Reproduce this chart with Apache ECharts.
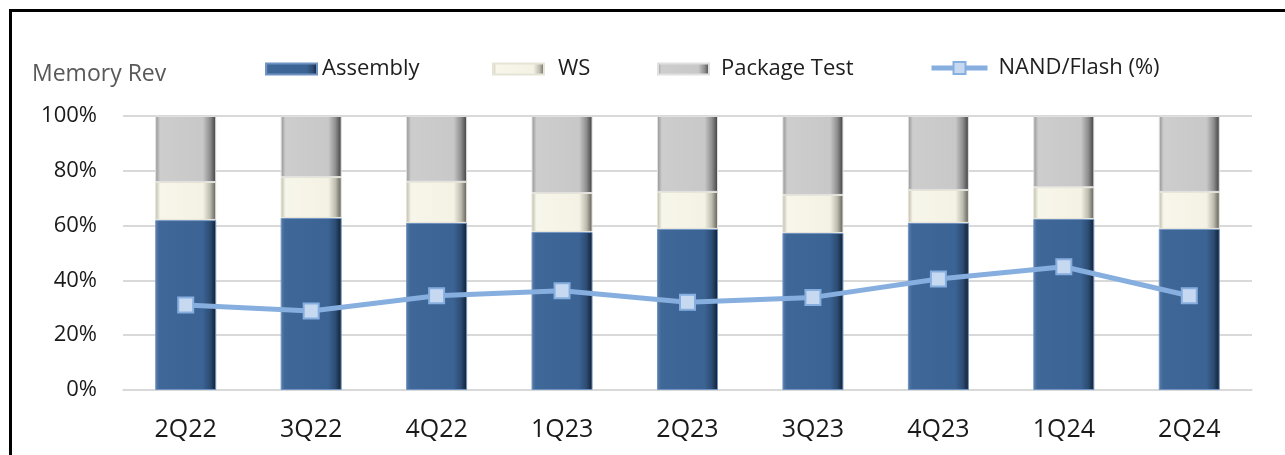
<!DOCTYPE html>
<html>
<head>
<meta charset="utf-8">
<script src="https://cdn.jsdelivr.net/npm/echarts@6/dist/echarts.min.js"></script>
<style>
html,body{margin:0;padding:0;background:#fff;}
#chart{width:1285px;height:455px;}
</style>
</head>
<body>
<div id="chart"></div>
<script>
const categories = ['2Q22','3Q22','4Q22','1Q23','2Q23','3Q23','4Q23','1Q24','2Q24'];
const assembly = [62.0, 62.8, 61.0, 57.7, 58.8, 57.3, 61.0, 62.4, 58.8];
const ws = [13.9, 14.9, 15.0, 14.2, 13.5, 13.9, 12.0, 11.6, 13.5];
const packageTest = assembly.map((a, i) => +(100 - a - ws[i]).toFixed(1));
const nandFlash = [31.0, 28.8, 34.4, 36.2, 32.0, 33.8, 40.5, 45.0, 34.4];
const yTicks = [0, 20, 40, 60, 80, 100];
const legendNames = ['Assembly','WS','Package Test','NAND/Flash (%)'];

const FONT = 'Open Sans';
function hGrad(stops){
  return {type:'linear',x:0,y:0,x2:1,y2:0,colorStops:stops.map(s=>({offset:s[0],color:s[1]}))};
}
const blueFill = hGrad([[0,'#5a7fae'],[0.07,'#3f6797'],[0.78,'#3b6393'],[0.9,'#2c4c73'],[1,'#101d2d']]);
const wsFill = hGrad([[0,'#b9b7a8'],[0.08,'#f7f6ea'],[0.78,'#f4f2e4'],[0.9,'#bdbbae'],[1,'#5a5a55']]);
const ptFill = hGrad([[0,'#8e8e8e'],[0.08,'#cdcdcd'],[0.78,'#c8c8c8'],[0.9,'#8e8e8e'],[1,'#3c3c3c']]);

const legendLeft = [260, 487, 652, 924];
const legendPad = [5, 14, 12, 11];
const legends = legendNames.map((n, i) => ({
  top: i === 3 ? 52 : 53, left: legendLeft[i],
  itemWidth: i === 3 ? 56 : 51, itemHeight: i === 3 ? 15 : 11,
  textStyle: {fontFamily: FONT, fontSize: 22, color: '#1e1e1e', padding: [0, 0, 0, legendPad[i] - 5]},
  data: [i === 3
    ? {name: n, lineStyle: {width: 5, color: '#86afe0'}, itemStyle: {color: '#c6d9f1', borderColor: '#86afe0', borderWidth: 2}}
    : {name: n, icon: 'rect'}]
}));

const chart = echarts.init(document.getElementById('chart'));
chart.setOption({
  backgroundColor:'#fff',
  animation:false,
  textStyle:{fontFamily:FONT},
  grid:{left:123,right:33,top:116,bottom:65},
  legend: legends,
  graphic:[
    {type:'rect',left:8,top:8,shape:{width:1320,height:500},style:{fill:'none',stroke:'#000',lineWidth:3},silent:true},
    {type:'text',left:32,top:63,style:{text:'Memory Rev',fontFamily:FONT,fontSize:23,fill:'#595959'}}
  ],
  xAxis:{
    type:'category',data:categories,
    axisLine:{show:true,lineStyle:{color:'#d9d9d9',width:1.5}},
    axisTick:{show:false},
    axisLabel:{fontFamily:FONT,fontSize:25,color:'#1a1a1a',margin:27}
  },
  yAxis:{
    type:'value',min:yTicks[0],max:yTicks[yTicks.length-1],interval:20,
    axisLine:{show:false},axisTick:{show:false},
    splitLine:{lineStyle:{color:'#d9d9d9',width:2}},
    axisLabel:{fontFamily:FONT,fontSize:22,color:'#1a1a1a',margin:26,formatter:v=>v+'%'}
  },
  series:[
    {name:'Assembly',type:'bar',stack:'m',barWidth:61,data:assembly,
      itemStyle:{color:blueFill,borderColor:'#6f93c2',borderWidth:1}},
    {name:'WS',type:'bar',stack:'m',barWidth:61,data:ws,
      itemStyle:{color:wsFill,borderColor:'#e6e4d6',borderWidth:1}},
    {name:'Package Test',type:'bar',stack:'m',barWidth:61,data:packageTest,
      itemStyle:{color:ptFill,borderColor:'#e0e0e0',borderWidth:1}},
    {name:'NAND/Flash (%)',type:'line',data:nandFlash,
      symbol:'rect',symbolSize:15,
      lineStyle:{color:'#86afe0',width:5},
      itemStyle:{color:'#c6d9f1',borderColor:'#86afe0',borderWidth:2},
      z:5}
  ]
});
</script>
</body>
</html>
